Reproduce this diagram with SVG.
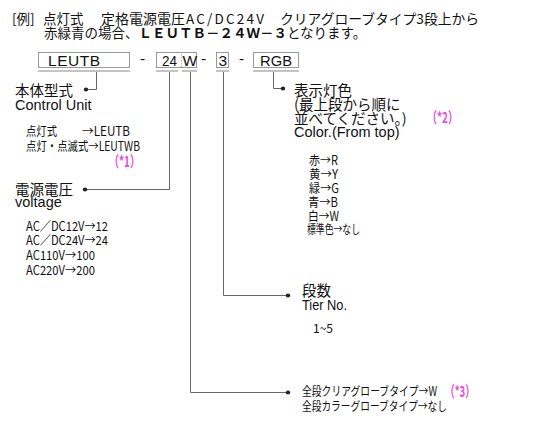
<svg xmlns="http://www.w3.org/2000/svg" width="560" height="428" viewBox="0 0 560 428">
<style>
.jp{font-family:"Noto Sans CJK JP",sans-serif;fill:#111}
.h{font-size:14.5px}
.en{font-family:"Liberation Sans",Arial,sans-serif;font-size:14.5px;fill:#111}
.s{font-family:"Noto Sans CJK JP",sans-serif;font-size:12.5px;fill:#111}
.mg{font-family:"Noto Sans CJK JP",sans-serif;font-size:15px;font-weight:bold;fill:#ea48de}
.bx{fill:#fff;stroke:#999;stroke-width:1}
.ul{stroke:#c4c4c4;stroke-width:2;fill:none}
.cn{stroke:#666;stroke-width:1;fill:none}
.dot{fill:#222}
.bt{font-family:"Liberation Sans",Arial,sans-serif;font-size:15.5px;fill:#111}
</style>
<rect width="560" height="428" fill="#fff"/>
<g id="header">
<text class="jp" font-size="13.5" y="24"><tspan x="12">[例]</tspan><tspan x="43">点灯式</tspan><tspan x="101" textLength="84" lengthAdjust="spacingAndGlyphs">定格電源電圧</tspan><tspan x="186" textLength="78" lengthAdjust="spacing">AC/DC24V</tspan><tspan x="280" textLength="199" lengthAdjust="spacingAndGlyphs">クリアグローブタイプ3段上から</tspan></text>
<text class="jp" font-size="13.5" y="38" x="44">赤緑青の場合、<tspan font-weight="bold">ＬＥＵＴＢ－２４Ｗ－３</tspan>となります。</text>
</g>
<g id="code">
<rect class="bx" x="38.5" y="52.5" width="91" height="15"/>
<text class="bt" x="48" y="66" textLength="52" lengthAdjust="spacing">LEUTB</text>
<text class="bt" x="140" y="64">-</text>
<rect class="bx" x="156.5" y="52.5" width="40" height="15"/>
<line x1="181.5" y1="54" x2="181.5" y2="67" stroke="#aaa" stroke-dasharray="1.5,1.5"/>
<text class="bt" x="162" y="66" textLength="15" lengthAdjust="spacingAndGlyphs">24</text>
<text class="bt" x="182.5" y="66">W</text>
<text class="bt" x="201" y="64">-</text>
<rect class="bx" x="216.5" y="52.5" width="12" height="15"/>
<text class="bt" x="218.5" y="66">3</text>
<text class="bt" x="239" y="64">-</text>
<rect class="bx" x="253.5" y="52.5" width="45" height="15"/>
<text class="bt" x="260" y="66" textLength="32" lengthAdjust="spacingAndGlyphs">RGB</text>
<path class="ul" d="M38 71H130M156 71H178M182 71H197M216 71H229M253 71H299"/>
</g>
<g id="connectors">
<path class="cn" d="M96.5 72V89.5H87"/>
<path class="cn" d="M169.5 72V189.5H86"/>
<path class="cn" d="M190.5 72V392.5H288"/>
<path class="cn" d="M223.5 72V295.5H288"/>
<path class="cn" d="M273.5 72V88.5H283"/>
<ellipse class="dot" cx="86" cy="89.5" rx="2.2" ry="2"/>
<ellipse class="dot" cx="85" cy="189.5" rx="2.2" ry="2"/>
<ellipse class="dot" cx="288" cy="295.5" rx="2.2" ry="2"/>
<ellipse class="dot" cx="288" cy="392.5" rx="2.2" ry="2"/>
<ellipse class="dot" cx="283" cy="88.5" rx="2.2" ry="2"/>
</g>
<g id="control-unit">
<text class="jp h" x="15" y="96">本体型式</text>
<text class="en" x="15" y="110">Control Unit</text>
<text class="s" x="26" y="136" textLength="31" lengthAdjust="spacingAndGlyphs">点灯式</text>
<text class="s" x="82" y="136" textLength="48" lengthAdjust="spacingAndGlyphs">→LEUTB</text>
<text class="s" x="26" y="151" textLength="114" lengthAdjust="spacingAndGlyphs">点灯・点滅式→LEUTWB</text>
<text class="mg" x="109" y="167" textLength="31" lengthAdjust="spacingAndGlyphs">（*1）</text>
</g>
<g id="voltage">
<text class="jp h" x="15" y="195">電源電圧</text>
<text class="en" x="15" y="207">voltage</text>
<text class="s" x="26" y="231" textLength="82" lengthAdjust="spacingAndGlyphs">AC／DC12V→12</text>
<text class="s" x="26" y="245" textLength="82" lengthAdjust="spacingAndGlyphs">AC／DC24V→24</text>
<text class="s" x="26" y="260" textLength="69" lengthAdjust="spacingAndGlyphs">AC110V→100</text>
<text class="s" x="26" y="275" textLength="69" lengthAdjust="spacingAndGlyphs">AC220V→200</text>
</g>
<g id="color">
<text class="jp h" x="294" y="96">表示灯色</text>
<text class="jp h" x="294" y="110">(最上段から順に</text>
<text class="jp h" x="294" y="124">並べてください。)</text>
<text class="mg" x="427" y="123" textLength="31" lengthAdjust="spacingAndGlyphs">（*2）</text>
<text class="en" x="294" y="137">Color.(From top)</text>
<text class="s" x="309" y="165" textLength="29" lengthAdjust="spacingAndGlyphs">赤→R</text>
<text class="s" x="309" y="179" textLength="29" lengthAdjust="spacingAndGlyphs">黄→Y</text>
<text class="s" x="309" y="193" textLength="30" lengthAdjust="spacingAndGlyphs">緑→G</text>
<text class="s" x="308" y="207" textLength="30" lengthAdjust="spacingAndGlyphs">青→B</text>
<text class="s" x="308" y="221" textLength="31" lengthAdjust="spacingAndGlyphs">白→W</text>
<text class="s" x="307" y="234" textLength="53" lengthAdjust="spacingAndGlyphs">標準色→なし</text>
</g>
<g id="tier">
<text class="jp h" x="302" y="296">段数</text>
<text class="en" x="302" y="310" textLength="45" lengthAdjust="spacingAndGlyphs">Tier No.</text>
<text class="s" x="313" y="333" textLength="20" lengthAdjust="spacingAndGlyphs">1~5</text>
</g>
<g id="globe">
<text class="s" x="302" y="396" textLength="135" lengthAdjust="spacingAndGlyphs">全段クリアグローブタイプ→W</text>
<text class="mg" x="445" y="397" textLength="30" lengthAdjust="spacingAndGlyphs">（*3）</text>
<text class="s" x="302" y="411" textLength="145" lengthAdjust="spacingAndGlyphs">全段カラーグローブタイプ→なし</text>
</g>
</svg>
